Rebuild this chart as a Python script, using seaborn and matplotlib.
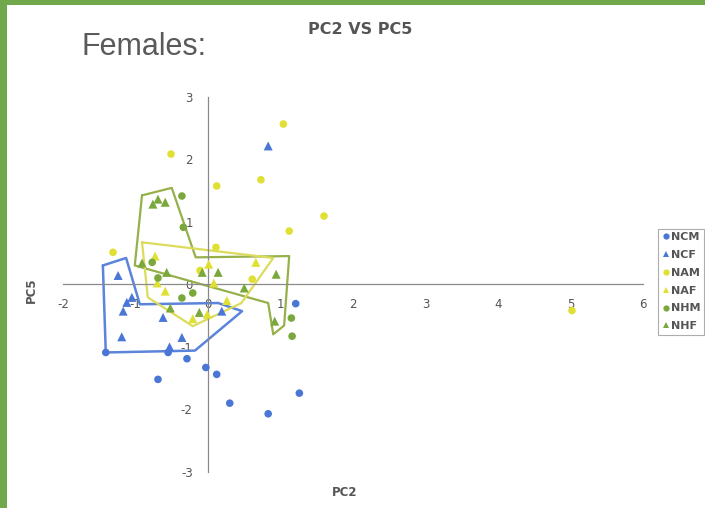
import matplotlib
matplotlib.use("Agg")
import matplotlib.pyplot as plt
from matplotlib.patches import Rectangle
import seaborn as sns
import pandas as pd

# ---- data ----
groups = ["NCM", "NCF", "NAM", "NAF", "NHM", "NHF"]

ncm_x = [1.21, -1.41, -0.55, -0.29, -0.03, 0.12, -0.69, 0.30, 0.83, 1.26]
ncm_y = [-0.31, -1.09, -1.09, -1.19, -1.33, -1.44, -1.52, -1.90, -2.07, -1.74]

ncf_x = [0.83, -1.24, -1.05, -1.12, -1.17, -1.19, -0.62, -0.36, -0.53, 0.19]
ncf_y = [2.21, 0.14, -0.21, -0.29, -0.43, -0.84, -0.53, -0.85, -1.00, -0.43]

nam_x = [1.04, -0.51, 0.12, 0.73, 1.12, 1.60, 0.11, -1.31, 5.02, 0.61, -0.11]
nam_y = [2.56, 2.08, 1.57, 1.67, 0.85, 1.09, 0.59, 0.51, -0.42, 0.08, 0.22]

naf_x = [-0.73, 0.01, 0.66, 0.08, -0.70, -0.59, 0.26, -0.21, -0.01]
naf_y = [0.45, 0.32, 0.35, 0.02, 0.02, -0.11, -0.26, -0.55, -0.48]

nhm_x = [-0.36, -0.34, -0.77, -0.69, -0.36, -0.21, 1.15, 1.16]
nhm_y = [1.41, 0.91, 0.35, 0.10, -0.22, -0.14, -0.54, -0.83]

nhf_x = [-0.76, -0.69, -0.59, -0.91, -0.57, -0.08, 0.14, 0.94, 0.50, -0.52, -0.12, 0.92]
nhf_y = [1.28, 1.36, 1.31, 0.34, 0.19, 0.19, 0.19, 0.16, -0.06, -0.38, -0.45, -0.59]

# hand-drawn outline shapes (data coordinates)
blue_poly_x = [-1.45, -1.13, -0.94, 0.14, 0.47, -0.18, -1.41, -1.45]
blue_poly_y = [0.30, 0.42, -0.32, -0.30, -0.43, -1.06, -1.09, 0.30]

green_poly_x = [-0.91, -0.50, -0.17, 1.12, 1.05, 0.90, 0.83, -1.01, -0.91]
green_poly_y = [1.42, 1.54, 0.43, 0.45, -0.66, -0.80, -0.30, 0.30, 1.42]

yellow_poly_x = [-0.91, 0.90, 0.46, -0.21, -0.83, -0.91]
yellow_poly_y = [0.67, 0.42, -0.30, -0.67, -0.21, 0.67]

x_ticks = [-2, -1, 0, 1, 2, 3, 4, 5, 6]
y_ticks = [-3, -2, -1, 0, 1, 2, 3]

# ---- build table ----
series = {
    "NCM": (ncm_x, ncm_y), "NCF": (ncf_x, ncf_y),
    "NAM": (nam_x, nam_y), "NAF": (naf_x, naf_y),
    "NHM": (nhm_x, nhm_y), "NHF": (nhf_x, nhf_y),
}
rows = []
for g in groups:
    xs, ys = series[g]
    for a, b in zip(xs, ys):
        rows.append({"PC2": a, "PC5": b, "group": g})
df = pd.DataFrame(rows)

blue = "#4a76d6"
yellow = "#e0e034"
green = "#7aa83c"
palette = {"NCM": blue, "NCF": blue, "NAM": yellow, "NAF": yellow,
           "NHM": green, "NHF": green}
markers = {"NCM": "o", "NCF": "^", "NAM": "o", "NAF": "^", "NHM": "o", "NHF": "^"}
sizes = {"NCM": 30, "NCF": 42, "NAM": 30, "NAF": 42, "NHM": 30, "NHF": 42}

sns.set_style("white")
plt.rcParams["font.family"] = ["DejaVu Sans"]
plt.rcParams["axes.unicode_minus"] = False

fig = plt.figure(figsize=(7.05, 5.08), dpi=100)
ax = fig.add_axes([63 / 705, 36 / 508, 580 / 705, 375.5 / 508])

# outline shapes
ax.plot(blue_poly_x, blue_poly_y, color="#5b84da", lw=1.8, zorder=1)
ax.plot(green_poly_x, green_poly_y, color="#96b04a", lw=1.6, zorder=1)
ax.plot(yellow_poly_x, yellow_poly_y, color="#dcdc5c", lw=1.6, zorder=1)

sns.scatterplot(data=df, x="PC2", y="PC5", hue="group", style="group",
                size="group", hue_order=groups, style_order=groups,
                size_order=groups, sizes=sizes,
                palette=palette, markers=markers, linewidth=0,
                ax=ax, zorder=3)

ax.set_xlim(-2, 6)
ax.set_ylim(-3, 3)
ax.spines["left"].set_position(("data", 0))
ax.spines["bottom"].set_position(("data", 0))
ax.spines["right"].set_visible(False)
ax.spines["top"].set_visible(False)
for sp in ("left", "bottom"):
    ax.spines[sp].set_color("#8a8a8a")
    ax.spines[sp].set_linewidth(0.9)
ax.set_xticks(x_ticks)
ax.set_yticks(y_ticks)
ax.tick_params(axis="both", direction="out", length=3, width=0.8,
               color="#8a8a8a", labelsize=8.5, labelcolor="#555555")
ax.tick_params(axis="x", pad=7)
ax.tick_params(axis="y", pad=8)
ax.set_xlabel("")
ax.set_ylabel("")
ax.patch.set_alpha(0)

# legend at the right edge
handles, labels = ax.get_legend_handles_labels()
for h in handles:
    try:
        h.set_markersize(4.5)
    except Exception:
        pass
leg = ax.legend(handles, labels, loc="upper left",
                bbox_to_anchor=(658 / 705, 1 - 229 / 508),
                bbox_transform=fig.transFigure, frameon=True,
                fontsize=8, handletextpad=0.05, handlelength=0.8,
                borderpad=0.3, labelspacing=0.7, borderaxespad=0,
                fancybox=False)
leg.get_frame().set_edgecolor("#999999")
leg.get_frame().set_linewidth(0.8)
for t in leg.get_texts():
    t.set_color("#555555")
    t.set_fontweight("bold")

# texts
fig.text(360 / 705, 1 - 30 / 508, "PC2 VS PC5", ha="center", va="center",
         fontsize=11.5, fontweight="bold", color="#555555")
fig.text(82 / 705, 1 - 47 / 508, "Females:", ha="left", va="center",
         fontsize=22, color="#5a5a5a", family=["Liberation Sans", "DejaVu Sans"])
fig.text(345 / 705, 1 - 492 / 508, "PC2", ha="center", va="center",
         fontsize=8.5, fontweight="bold", color="#555555")
fig.text(31 / 705, 1 - 290 / 508, "PC5", ha="center", va="center",
         rotation=90, fontsize=8.5, fontweight="bold", color="#555555")

# green frame at top and left
border = "#72a84c"
fig.patches.append(Rectangle((0, 1 - 5 / 508), 1, 5 / 508, transform=fig.transFigure,
                             facecolor=border, edgecolor="none", zorder=10))
fig.patches.append(Rectangle((0, 0), 7 / 705, 1, transform=fig.transFigure,
                             facecolor=border, edgecolor="none", zorder=10))

fig.savefig("out.png", dpi=100, facecolor="white")
